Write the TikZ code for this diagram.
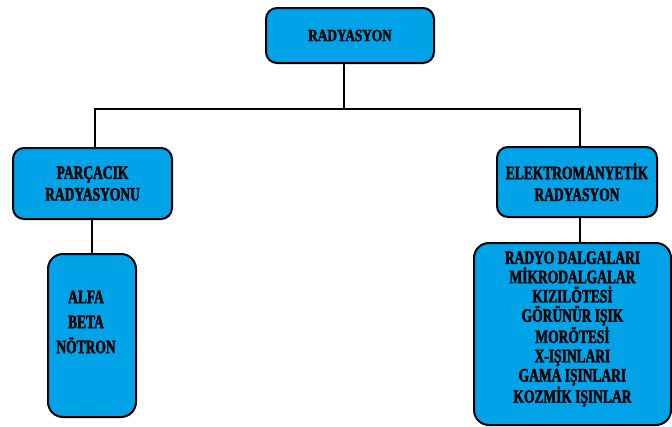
\documentclass[tikz,border=0pt]{standalone}
\usepackage{fontspec}
\setmainfont{Liberation Serif}
\newfontfamily\boxfont{Liberation Serif}[FakeStretch=0.71,FakeBold=2]
\newfontfamily\topfont{Liberation Serif}[FakeStretch=0.78,FakeBold=2]
\definecolor{boxblue}{RGB}{0,162,232}
\begin{document}
\begin{tikzpicture}[x=1pt,y=-1pt,
  box/.style={draw=black, line width=2pt, fill=boxblue, rounded corners=11pt, inner sep=0pt, align=center},
  lbl/.style={align=center, inner sep=0pt},
  conn/.style={line width=2pt, draw=black}]
\useasboundingbox (0,0) rectangle (672,426);
\clip (0,0) rectangle (672,426);

\node[box, minimum width=168pt, minimum height=55pt,
      font=\topfont\bfseries\fontsize{17}{18}\selectfont] (top) at (350,35.5) {RADYASYON};

\node[box, minimum width=159pt, minimum height=71pt,
      font=\boxfont\bfseries\fontsize{19}{21.7}\selectfont] (left) at (92.5,183.5) {PARÇACIK\\RADYASYONU};

\node[box, minimum width=160pt, minimum height=70pt,
      font=\boxfont\bfseries\fontsize{19}{21.7}\selectfont] (right) at (577,182) {ELEKTROMANYETİK\\RADYASYON};

\node[box, rounded corners=15pt, minimum width=88pt, minimum height=163pt] (alfa) at (92,335.5) {};
\node[lbl, font=\boxfont\bfseries\fontsize{19}{25}\selectfont] (alfatxt) at (86,322) {ALFA\\BETA\\NÖTRON};

\node[box, rounded corners=15pt, minimum width=197pt, minimum height=182pt] (big) at (572.5,334) {};
\node[lbl, font=\boxfont\bfseries\fontsize{19}{19.3}\selectfont] (bigtxt) at (572.5,329) {RADYO DALGALARI\\MİKRODALGALAR\\KIZILÖTESİ\\GÖRÜNÜR IŞIK\\MORÖTESİ\\X-IŞINLARI\\GAMA IŞINLARI\\KOZMİK IŞINLAR};

\coordinate (tj) at (344,109);
\coordinate (hl) at (95,109);
\coordinate (hr) at (580,109);

\draw[conn] (top.south -| tj) -- (tj);
\draw[conn] (left.north -| hl) -- (hl) -- (hr) -- (right.north -| hr);
\draw[conn] (left.south -| alfa.north) -- (alfa.north);
\draw[conn] (right.south -| hr) -- (big.north -| hr);
\end{tikzpicture}
\end{document}
